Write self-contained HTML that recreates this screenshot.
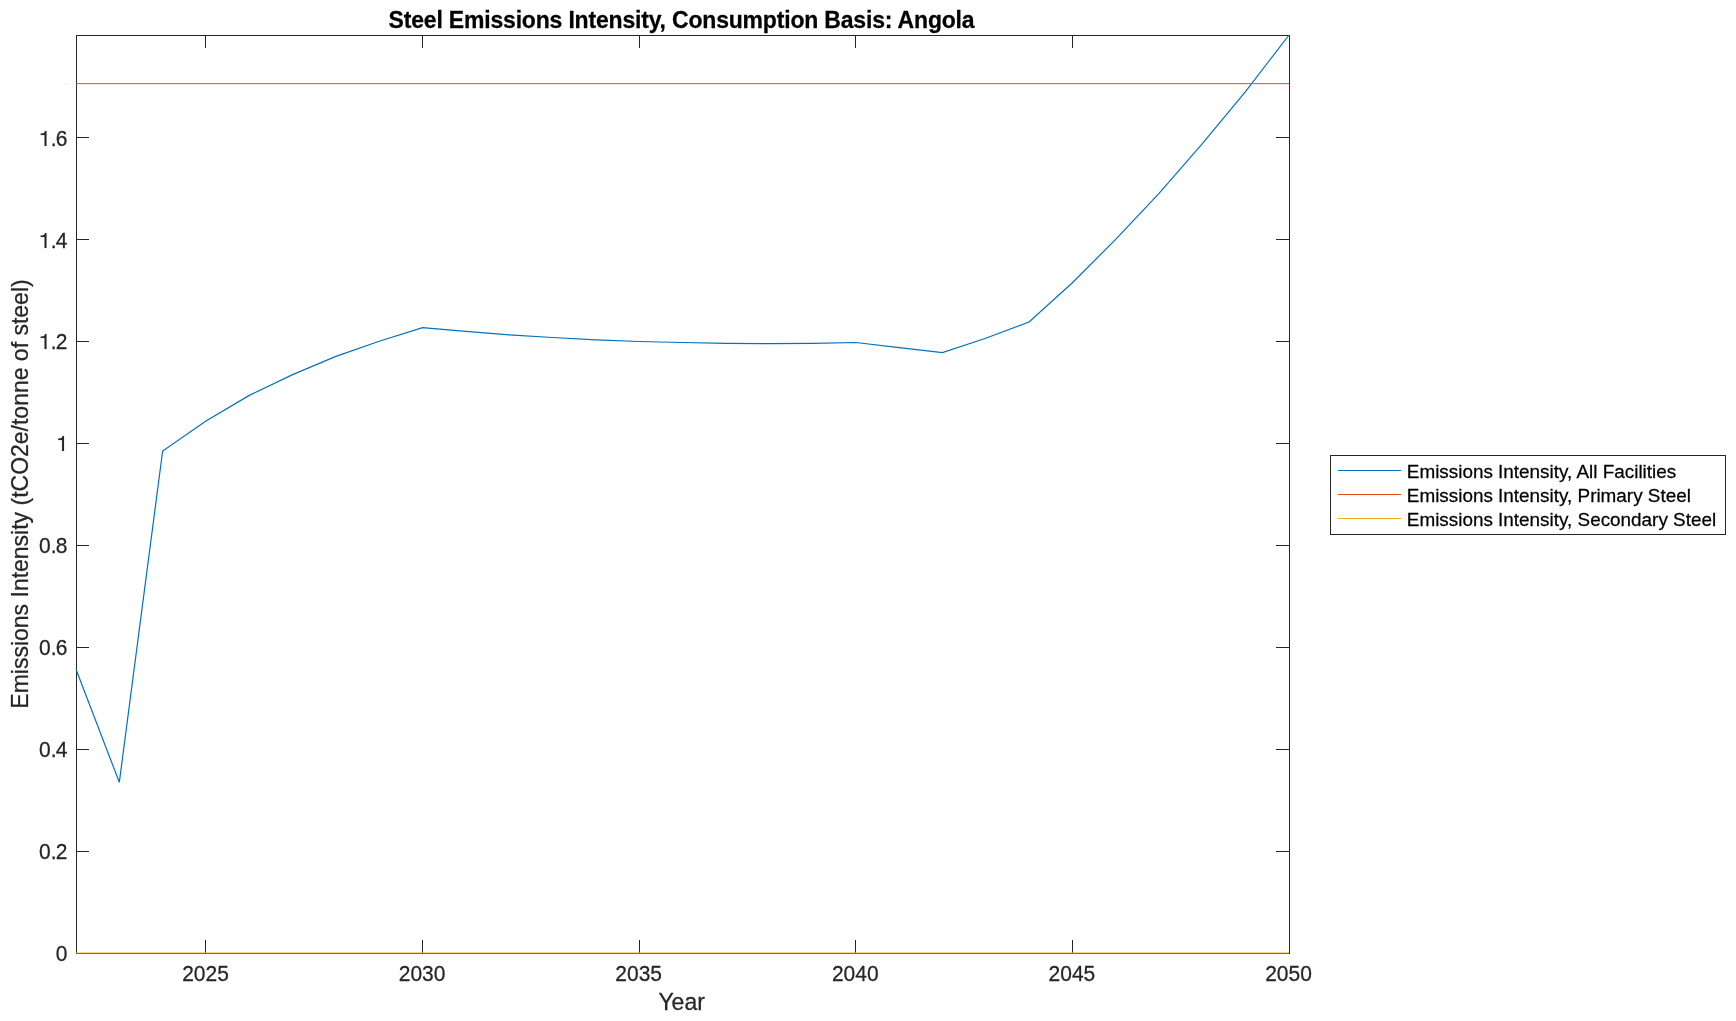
<!DOCTYPE html>
<html><head><meta charset="utf-8"><title>Steel Emissions Intensity</title>
<style>
html,body{margin:0;padding:0;background:#fff;}
body{width:1736px;height:1021px;overflow:hidden;font-family:"Liberation Sans",sans-serif;}
svg{display:block;will-change:transform;}
text{font-family:"Liberation Sans",sans-serif;stroke-linejoin:round;}
.tk{font-size:21px;fill:#262626;stroke:#262626;stroke-width:0.25px;}
.lb{font-size:23px;fill:#262626;stroke:#262626;stroke-width:0.25px;}
.lg{font-size:18.9px;fill:#000;stroke:#000;stroke-width:0.25px;}
.tt{font-size:23px;font-weight:bold;fill:#000;stroke:#000;stroke-width:0.25px;letter-spacing:-0.18px;}
</style></head><body>
<svg width="1736" height="1021" viewBox="0 0 1736 1021">
<rect x="0" y="0" width="1736" height="1021" fill="#ffffff"/>
<rect x="76.5" y="35.5" width="1213.0" height="918.0" fill="none" stroke="#262626" stroke-width="1"/>
<path d="M205.5 953.0V940.0M205.5 35.0V48.0M422.5 953.0V940.0M422.5 35.0V48.0M639.5 953.0V940.0M639.5 35.0V48.0M855.5 953.0V940.0M855.5 35.0V48.0M1072.5 953.0V940.0M1072.5 35.0V48.0M76.0 851.5H89.0M1289.0 851.5H1276.0M76.0 749.5H89.0M1289.0 749.5H1276.0M76.0 647.5H89.0M1289.0 647.5H1276.0M76.0 545.5H89.0M1289.0 545.5H1276.0M76.0 443.5H89.0M1289.0 443.5H1276.0M76.0 341.5H89.0M1289.0 341.5H1276.0M76.0 239.5H89.0M1289.0 239.5H1276.0M76.0 137.5H89.0M1289.0 137.5H1276.0" fill="none" stroke="#262626" stroke-width="1"/>
<polyline points="76.00,669.30 119.32,782.30 162.64,451.00 205.96,421.00 249.29,395.40 292.61,374.60 335.93,356.40 379.25,341.20 422.57,327.60 465.89,331.30 509.21,334.80 552.54,337.50 595.86,339.80 639.18,341.50 682.50,342.50 725.82,343.30 769.14,343.60 812.46,343.30 855.79,342.50 899.11,347.60 942.43,352.60 985.75,338.30 1029.07,322.00 1072.39,282.70 1115.71,239.40 1159.04,193.40 1202.36,143.60 1245.68,91.40 1289.00,35.00" fill="none" stroke="#0072BD" stroke-width="1.2" stroke-linejoin="miter"/>
<line x1="76.0" y1="83.65" x2="1289.0" y2="83.65" stroke="#D95319" stroke-width="1"/>
<line x1="76.0" y1="953.0" x2="1289.0" y2="953.0" stroke="#EDB120" stroke-width="1"/>
<text class="tk" transform="translate(205.5,981.2) scale(1,1.025)" text-anchor="middle">2025</text>
<text class="tk" transform="translate(422.1,981.2) scale(1,1.025)" text-anchor="middle">2030</text>
<text class="tk" transform="translate(638.7,981.2) scale(1,1.025)" text-anchor="middle">2035</text>
<text class="tk" transform="translate(855.3,981.2) scale(1,1.025)" text-anchor="middle">2040</text>
<text class="tk" transform="translate(1071.9,981.2) scale(1,1.025)" text-anchor="middle">2045</text>
<text class="tk" transform="translate(1288.5,981.2) scale(1,1.025)" text-anchor="middle">2050</text>
<text class="tk" transform="translate(67.4,961.0) scale(1,1.025)" text-anchor="end">0</text>
<text class="tk" transform="translate(67.4,859.0) scale(1,1.025)" x="-28.49 -16.56 -11.68">0.2</text>
<text class="tk" transform="translate(67.4,757.0) scale(1,1.025)" x="-28.49 -16.56 -11.68">0.4</text>
<text class="tk" transform="translate(67.4,655.0) scale(1,1.025)" x="-28.49 -16.56 -11.68">0.6</text>
<text class="tk" transform="translate(67.4,553.0) scale(1,1.025)" x="-28.49 -16.56 -11.68">0.8</text>
<path d="M62.07 451.00L64.00 451.00L64.00 435.96L62.61 435.96C62.32 437.77 60.97 438.57 58.20 438.57L58.20 440.04L62.07 440.04Z" fill="#262626" stroke="#262626" stroke-width="0.15"/>
<text class="tk" transform="translate(67.4,349.0) scale(1,1.025)" x="-16.56 -11.68">.2</text>
<path d="M44.55 349.00L46.48 349.00L46.48 333.96L45.10 333.96C44.80 335.77 43.46 336.57 40.69 336.57L40.69 338.04L44.55 338.04Z" fill="#262626" stroke="#262626" stroke-width="0.15"/>
<text class="tk" transform="translate(67.4,248.0) scale(1,1.025)" x="-16.56 -11.68">.4</text>
<path d="M44.55 248.00L46.48 248.00L46.48 232.96L45.10 232.96C44.80 234.77 43.46 235.57 40.69 235.57L40.69 237.04L44.55 237.04Z" fill="#262626" stroke="#262626" stroke-width="0.15"/>
<text class="tk" transform="translate(67.4,146.0) scale(1,1.025)" x="-16.56 -11.68">.6</text>
<path d="M44.55 146.00L46.48 146.00L46.48 130.96L45.10 130.96C44.80 132.77 43.46 133.57 40.69 133.57L40.69 135.04L44.55 135.04Z" fill="#262626" stroke="#262626" stroke-width="0.15"/>
<text class="lb" transform="translate(681.6,1010) scale(1,1.012)" text-anchor="middle">Year</text>
<text class="lb" transform="translate(27.5,494) rotate(-90) scale(1,1.012)" text-anchor="middle">Emissions Intensity (tCO2e/tonne of steel)</text>
<text class="tt" transform="translate(681.5,27.8) scale(1,1.012)" text-anchor="middle">Steel Emissions Intensity, Consumption Basis: Angola</text>
<rect x="1330.5" y="455.5" width="395" height="79" fill="#fff" stroke="#262626" stroke-width="1"/>
<line x1="1338" y1="470.5" x2="1401" y2="470.5" stroke="#0072BD" stroke-width="1"/>
<text class="lg" transform="translate(1406.8,478.0) scale(1,1.012)">Emissions Intensity, All Facilities</text>
<line x1="1338" y1="494.5" x2="1401" y2="494.5" stroke="#D95319" stroke-width="1"/>
<text class="lg" transform="translate(1406.8,502.0) scale(1,1.012)">Emissions Intensity, Primary Steel</text>
<line x1="1338" y1="518.5" x2="1401" y2="518.5" stroke="#EDB120" stroke-width="1"/>
<text class="lg" transform="translate(1406.8,526.0) scale(1,1.012)">Emissions Intensity, Secondary Steel</text>
</svg>
</body></html>
